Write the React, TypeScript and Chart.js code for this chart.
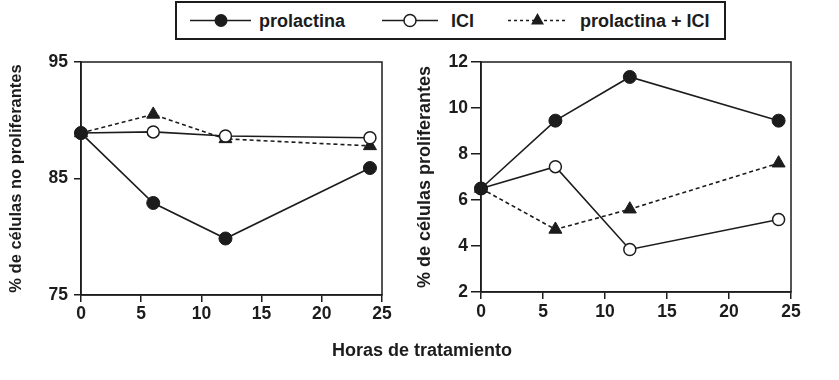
import React, { useEffect, useRef } from "react";
import { Chart, registerables } from "chart.js";
Chart.register(...registerables);

const FONT = '"Liberation Sans", Arial, Helvetica, sans-serif';
const INK = "#1c1c1c";

// ---- data ----
const hours = [0, 6, 12, 24];
const seriesNames = ["prolactina", "ICI", "prolactina + ICI"];
const xTitle = "Horas de tratamiento";
const leftTitle = "% de células no proliferantes";
const rightTitle = "% de células proliferantes";

const noProlPRL = [88.9, 82.9, 79.85, 85.9];
const noProlICI = [88.9, 89.0, 88.65, 88.5];
const noProlPRLICI = [88.9, 90.5, 88.4, 87.8];

const prolPRL = [6.5, 9.45, 11.35, 9.45];
const prolICI = [6.5, 7.45, 3.85, 5.15];
const prolPRLICI = [6.5, 4.72, 5.6, 7.6];

const xRange = [0, 25, 5];
const leftRange = [75, 95, 10];
const rightRange = [2, 12, 2];

const toPts = (vals: number[]) => hours.map((h, i) => ({ x: h, y: vals[i] }));

const framePlugin = {
  id: "frame",
  beforeDatasetsDraw(chart: any) {
    const { ctx, chartArea: a } = chart;
    ctx.save();
    ctx.strokeStyle = INK;
    ctx.lineWidth = 1.5;
    ctx.strokeRect(a.left, a.top, a.right - a.left, a.bottom - a.top);
    ctx.restore();
  },
};

function makeConfig(
  vals: number[][],
  yRange: number[],
  title: string,
  titleSize: number,
  titlePad: number,
  yTickLen: number,
  yTickPad: number,
  xTickPad: number,
  padding: any
): any {
  const tickFont = { family: FONT, size: 17.5, weight: "bold" as const };
  return {
    type: "line",
    data: {
      datasets: [
        {
          label: seriesNames[0],
          data: toPts(vals[0]),
          borderColor: INK,
          borderWidth: 1.6,
          pointStyle: "circle",
          pointRadius: 6.5,
          pointBackgroundColor: INK,
          pointBorderColor: INK,
          pointBorderWidth: 1,
          tension: 0,
          clip: false,
        },
        {
          label: seriesNames[1],
          data: toPts(vals[1]),
          borderColor: INK,
          borderWidth: 1.6,
          pointStyle: "circle",
          pointRadius: 6,
          pointBackgroundColor: "#ffffff",
          pointBorderColor: INK,
          pointBorderWidth: 1.5,
          tension: 0,
          clip: false,
        },
        {
          label: seriesNames[2],
          data: toPts(vals[2]),
          borderColor: INK,
          borderWidth: 1.6,
          borderDash: [4, 3],
          pointStyle: "triangle",
          pointRadius: 7.5,
          pointBackgroundColor: INK,
          pointBorderColor: INK,
          pointBorderWidth: 1,
          tension: 0,
          clip: false,
        },
      ],
    },
    options: {
      responsive: false,
      animation: false,
      layout: { padding },
      plugins: { legend: { display: false }, tooltip: { enabled: false } },
      scales: {
        x: {
          type: "linear",
          min: xRange[0],
          max: xRange[1],
          ticks: { stepSize: xRange[2], font: tickFont, color: INK, padding: xTickPad },
          grid: {
            display: true,
            drawOnChartArea: false,
            drawTicks: true,
            tickLength: 7,
            color: INK,
            lineWidth: 1.5,
          },
          border: { display: true, color: INK, width: 1.5 },
          afterFit: (s: any) => {
            s.height = 40;
          },
        },
        y: {
          type: "linear",
          min: yRange[0],
          max: yRange[1],
          ticks: { stepSize: yRange[2], font: tickFont, color: INK, padding: yTickPad },
          grid: {
            display: true,
            drawOnChartArea: false,
            drawTicks: true,
            tickLength: yTickLen,
            color: INK,
            lineWidth: 1.5,
          },
          border: { display: true, color: INK, width: 1.5 },
          title: {
            display: true,
            text: title,
            color: INK,
            font: { family: FONT, size: titleSize, weight: "bold" },
            padding: { top: titlePad, bottom: 0 },
          },
          afterFit: (s: any) => {
            s.width = 81;
          },
        },
      },
    },
    plugins: [framePlugin],
  };
}

function Panel(props: { left: number; width: number; config: any }) {
  const ref = useRef<HTMLCanvasElement | null>(null);
  useEffect(() => {
    if (!ref.current) return;
    const chart = new Chart(ref.current, props.config);
    return () => chart.destroy();
  }, []);
  return (
    <canvas
      ref={ref}
      width={props.width}
      height={380}
      style={{ position: "absolute", left: props.left, top: 0, width: props.width, height: 380 }}
    />
  );
}

function Legend() {
  const ts = { fontFamily: FONT, fontWeight: "bold" as const, fontSize: 18, fill: INK };
  const cy = 20.5;
  const tx = 537.5;
  return (
    <svg
      width={839}
      height={45}
      style={{ position: "absolute", left: 0, top: 0 }}
    >
      <rect x={176} y={2} width={549} height={37} fill="#fff" stroke={INK} strokeWidth={2} />
      <line x1={190} y1={cy} x2={251} y2={cy} stroke={INK} strokeWidth={1.5} />
      <circle cx={221} cy={cy} r={6.5} fill={INK} />
      <text x={259} y={26.5} style={ts}>{seriesNames[0]}</text>
      <line x1={382} y1={cy} x2={438} y2={cy} stroke={INK} strokeWidth={1.5} />
      <circle cx={410} cy={cy} r={6} fill="#fff" stroke={INK} strokeWidth={1.5} />
      <text x={451} y={26.5} style={ts}>{seriesNames[1]}</text>
      <line x1={508} y1={cy} x2={568} y2={cy} stroke={INK} strokeWidth={1.5} strokeDasharray="3 3" />
      <polygon
        points={`${tx},${cy - 7.5} ${tx + 6.5},${cy + 4} ${tx - 6.5},${cy + 4}`}
        fill={INK}
      />
      <text x={580} y={26.5} style={ts}>{seriesNames[2]}</text>
    </svg>
  );
}

export default function App() {
  const leftCfg = makeConfig(
    [noProlPRL, noProlICI, noProlPRLICI],
    leftRange,
    leftTitle,
    16.5,
    7,
    7,
    6,
    2,
    { top: 62, right: 18, left: 0, bottom: 45 }
  );
  const rightCfg = makeConfig(
    [prolPRL, prolICI, prolPRLICI],
    rightRange,
    rightTitle,
    18,
    14,
    10,
    3,
    3,
    { top: 62, right: 48, left: 0, bottom: 48 }
  );
  return (
    <div
      style={{
        position: "absolute",
        left: 0,
        top: 0,
        width: 839,
        height: 380,
        background: "#fff",
        overflow: "hidden",
      }}
    >
      <Panel left={0} width={400} config={leftCfg} />
      <Panel left={400} width={439} config={rightCfg} />
      <Legend />
      <div
        style={{
          position: "absolute",
          left: 272,
          top: 340,
          width: 300,
          textAlign: "center",
          fontFamily: FONT,
          fontWeight: "bold",
          fontSize: 18,
          lineHeight: "20px",
          color: INK,
        }}
      >
        {xTitle}
      </div>
    </div>
  );
}
